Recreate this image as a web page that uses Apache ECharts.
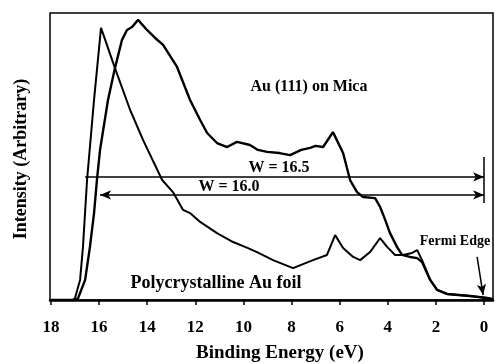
<!DOCTYPE html>
<html>
<head>
<meta charset="utf-8">
<script src="https://cdn.jsdelivr.net/npm/echarts@6.0.0/dist/echarts.min.js"></script>
<style>
  html, body { margin: 0; padding: 0; background: #fff; }
  #main { width: 495px; height: 364px; }
</style>
</head>
<body>
<div id="main"></div>
<script>
// Binding energy (eV) / intensity (arbitrary)
var foilEnergy = [18.0, 17.08, 17.0, 16.79, 16.67, 16.5, 16.21, 15.92, 15.34, 14.71, 14.17, 13.38, 12.93, 12.51, 12.22, 11.8,
    11.1, 10.43, 9.81, 9.44, 8.77, 7.94, 7.11, 6.53, 6.19, 5.86, 5.44, 5.15, 4.74, 4.32, 4.03, 3.7, 3.37, 2.99, 2.78, 2.58,
    2.24, 1.95, 1.54, 0.58, -0.12, -0.37];
var foilIntensity = [0, 0, 0.7, 7.0, 18.5, 41.8, 69.7, 94.8, 80.8, 66.2, 55.7, 41.8, 37.6, 31.4, 30.3, 27.2,
    23.3, 20.2, 18.1, 16.7, 13.9, 11.1, 13.9, 15.7, 22.6, 18.1, 15.0, 13.9, 16.7, 21.6, 18.5, 15.7, 15.7, 16.4, 17.4, 13.9,
    7.0, 3.5, 2.1, 1.4, 0.7, 0.3];

var micaEnergy = [18.0, 16.96, 16.87, 16.58, 16.38, 16.21, 16.09, 15.96, 15.63, 15.34, 15.05, 14.84, 14.63, 14.38, 14.01, 13.67,
    13.34, 12.76, 12.22, 11.8, 11.51, 11.1, 10.68, 10.27, 9.73, 9.4, 9.02, 8.5, 8.06, 7.6, 7.23, 7.0, 6.69, 6.28, 5.86, 5.57,
    5.28, 5.03, 4.53, 4.32, 4.11, 3.91, 3.62, 3.41, 3.08, 2.78, 2.58, 2.24, 1.95, 1.54, 0.58, -0.12, -0.37];
var micaIntensity = [0, 0, 0.7, 7.0, 18.5, 30.3, 41.8, 52.3, 69.7, 80.8, 90.6, 94.1, 95.1, 97.6, 94.1, 91.3,
    88.9, 81.2, 69.7, 62.7, 58.2, 54.7, 53.3, 55.1, 54.0, 52.3, 51.6, 51.2, 50.5, 52.3, 53.0, 53.7, 53.3, 58.5, 51.2, 41.8,
    37.6, 35.9, 35.5, 32.4, 27.9, 23.3, 18.5, 15.7, 15.0, 14.6, 13.2, 7.0, 3.5, 2.1, 1.4, 0.7, 0.3];

var xTicks = [0, 2, 4, 6, 8, 10, 12, 14, 16, 18];

// work function arrows: [start energy, level]
var arrowW165 = [16.58, 42.9];
var arrowW160 = [15.96, 36.6];

function zip(xs, ys) {
    var out = [];
    for (var i = 0; i < xs.length; i++) out.push([xs[i], ys[i]]);
    return out;
}

var serif = '"Liberation Serif", "Times New Roman", serif';
var myChart = echarts.init(document.getElementById('main'));

function txt(text, x, y, size, rot) {
    return {
        type: 'text', x: x, y: y, rotation: rot || 0,
        style: {
            text: text, fill: '#000', align: 'center', verticalAlign: 'middle',
            font: 'bold ' + size + 'px ' + serif
        }
    };
}

var option = {
    animation: false,
    grid: {
        left: 50, right: 2, top: 13, bottom: 64,
        show: true, borderColor: '#000', borderWidth: 1.5
    },
    xAxis: {
        type: 'value', inverse: true, min: -0.37, max: 18.04,
        axisLine: { show: true, onZero: false, lineStyle: { color: '#000', width: 2.5 } },
        axisTick: { show: true, inside: false, length: 5, customValues: xTicks, lineStyle: { color: '#000', width: 1.5 } },
        axisLabel: {
            customValues: xTicks, margin: 19, color: '#000',
            fontFamily: serif, fontWeight: 'bold', fontSize: 17
        },
        splitLine: { show: false }
    },
    yAxis: { type: 'value', min: 0, max: 100, show: false },
    graphic: [
        txt('Intensity (Arbitrary)', 21, 159, 18, Math.PI / 2),
        txt('Binding Energy (eV)', 280, 353, 19),
        txt('Au (111) on Mica', 309, 87, 16),
        txt('W = 16.5', 279, 168, 16),
        txt('W = 16.0', 229, 187, 16),
        txt('Polycrystalline Au foil', 216, 283, 18),
        txt('Fermi Edge', 455, 241, 14)
    ],
    series: [
        {
            type: 'line', name: 'Au (111) on Mica',
            data: zip(micaEnergy, micaIntensity),
            showSymbol: false, smooth: false,
            lineStyle: { color: '#000', width: 2.4 }
        },
        {
            type: 'line', name: 'Polycrystalline Au foil',
            data: zip(foilEnergy, foilIntensity),
            showSymbol: false, smooth: false,
            lineStyle: { color: '#000', width: 2 },
            markLine: {
                silent: true,
                symbolSize: [7, 11],
                label: { show: false },
                lineStyle: { color: '#000', width: 1.5, type: 'solid' },
                data: [
                    [{ coord: arrowW165, symbol: 'none' }, { coord: [0, arrowW165[1]], symbol: 'arrow' }],
                    [{ coord: arrowW160, symbol: 'arrow' }, { coord: [0, arrowW160[1]], symbol: 'arrow' }],
                    [{ coord: [0, 49.8], symbol: 'none' }, { coord: [0, 33.8], symbol: 'none' }],
                    [{ coord: [0.29, 15.0], symbol: 'none' }, { coord: [0.04, 1.7], symbol: 'arrow' }]
                ]
            }
        }
    ]
};
myChart.setOption(option);
</script>
</body>
</html>
